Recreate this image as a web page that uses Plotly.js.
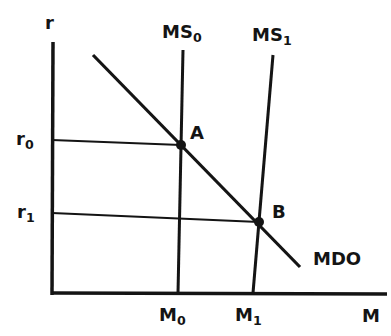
<!DOCTYPE html>
<html><head><meta charset="utf-8">
<script src="https://cdn.plot.ly/plotly-3.0.1.min.js"></script>
<style>html,body{margin:0;padding:0;background:#fff;}#chart{width:391px;height:336px;}</style>
</head><body><div id="chart"></div>
<script>
// Hand-drawn money market diagram (units: arbitrary, origin at axis corner)
const rAxisX = [1, 0], rAxisY = [251, -2];
const mAxisX = [0, 335], mAxisY = [0, -1];
const ms0X = [131, 126], ms0Y = [243, 0];
const ms1X = [221, 201], ms1Y = [238, 0];
const md0X = [41, 248], md0Y = [238, 26];
const r0GuideX = [0, 129], r0GuideY = [153, 148];
const r1GuideX = [0, 207], r1GuideY = [80, 71];
const eqX = [129, 207], eqY = [148, 71];
const labelText = ["r", "r<sub>0</sub>", "r<sub>1</sub>", "MS<sub>0</sub>", "MS<sub>1</sub>", "A", "B", "MDO", "M<sub>0</sub>", "M<sub>1</sub>", "M"];
const labelX = [-3, -27, -26, 130, 220, 145, 227, 285, 120, 196, 319];
const labelY = [271, 153, 80, 260, 257, 161, 82, 35, -23, -23, -22];

const ink = '#141414';
const line = (x, y, w) => ({x, y, mode: 'lines', type: 'scatter', line: {color: ink, width: w || 3}, hoverinfo: 'skip', showlegend: false});
const traces = [
  line(rAxisX, rAxisY, 3.5), line(mAxisX, mAxisY, 3.5),
  line(ms0X, ms0Y, 3), line(ms1X, ms1Y, 3), line(md0X, md0Y, 3.2),
  line(r0GuideX, r0GuideY, 2), line(r1GuideX, r1GuideY, 2),
  {x: eqX, y: eqY, mode: 'markers', type: 'scatter', marker: {color: ink, size: 10}, hoverinfo: 'skip', showlegend: false}
];
const annotations = labelText.map((t, i) => ({
  x: labelX[i], y: labelY[i], text: '<b>' + t + '</b>', showarrow: false, xanchor: 'center', yanchor: 'middle',
  font: {family: 'DejaVu Sans', size: 18, color: ink}
}));
const layout = {
  width: 391, height: 336, margin: {l: 0, r: 0, t: 0, b: 0},
  paper_bgcolor: '#fff', plot_bgcolor: '#fff',
  xaxis: {range: [-52, 339], visible: false, fixedrange: true},
  yaxis: {range: [-43, 293], visible: false, fixedrange: true},
  annotations, showlegend: false
};
Plotly.newPlot('chart', traces, layout, {staticPlot: true, displayModeBar: false});
</script></body></html>
